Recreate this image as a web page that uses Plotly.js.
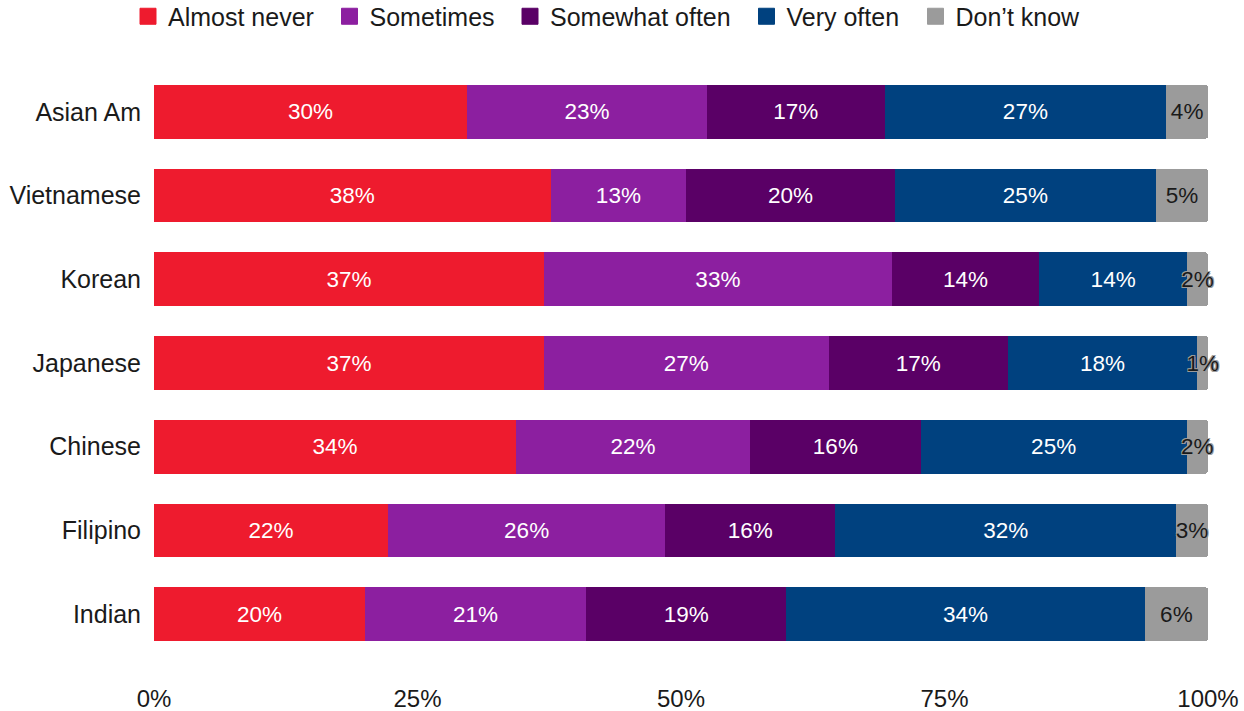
<!DOCTYPE html>
<html>
<head>
<meta charset="utf-8">
<script src="https://cdn.plot.ly/plotly-3.0.1.min.js"></script>
<style>html,body{margin:0;padding:0;background:#fff;}#chart{width:1244px;height:711px;}</style>
</head>
<body>
<div id="chart"></div>
<script>
const groups = ["Asian Am", "Vietnamese", "Korean", "Japanese", "Chinese", "Filipino", "Indian"];
const seriesNames = ["Almost never", "Sometimes", "Somewhat often", "Very often", "Don\u2019t know"];
const almostNever = [30, 38, 37, 37, 34, 22, 20];
const sometimes = [23, 13, 33, 27, 22, 26, 21];
const somewhatOften = [17, 20, 14, 17, 16, 16, 19];
const veryOften = [27, 25, 14, 18, 25, 32, 34];
const dontKnow = [4, 5, 2, 1, 2, 3, 6];
const xTickVals = [0, 25, 50, 75, 100];
const xTickText = ["0%", "25%", "50%", "75%", "100%"];

const seriesValues = [almostNever, sometimes, somewhatOften, veryOften, dontKnow];
const colors = ["#EE1B2E", "#8C1FA0", "#5A0066", "#00417F", "#9B9B9B"];
const textColors = ["#ffffff", "#ffffff", "#ffffff", "#ffffff", "#1a1a1a"];
const FONT = "Liberation Sans, Arial, sans-serif";
// legend swatch centre positions (px) in the page
const legendCenters = [148, 349.5, 530, 766.5, 935.5];

const traces = seriesValues.map((vals, i) => ({
  type: "bar",
  orientation: "h",
  name: seriesNames[i],
  y: groups,
  x: vals,
  text: vals.map(v => v + "%"),
  texttemplate: "%{text}",
  textposition: "inside",
  insidetextanchor: "middle",
  textangle: 0,
  constraintext: "none",
  cliponaxis: false,
  textfont: i === 4 ? {family: FONT, size: 22.5, color: textColors[i],
    shadow: "-1px -1px 0 #9B9B9B, 1px -1px 0 #9B9B9B, -1px 1px 0 #9B9B9B, 1px 1px 0 #9B9B9B"}
    : {family: FONT, size: 22.5, color: textColors[i]},
  marker: {color: colors[i], line: {width: 0}},
  showlegend: false,
  hoverinfo: "skip"
}));

seriesNames.forEach((n, i) => {
  traces.push({
    type: "scatter",
    mode: "markers",
    name: n,
    x: [null],
    y: [null],
    marker: {symbol: "square", size: 16, color: colors[i], line: {width: 1, color: colors[i]}},
    showlegend: true,
    legend: i === 0 ? "legend" : "legend" + (i + 1),
    hoverinfo: "skip"
  });
});

const layout = {
  width: 1244,
  height: 711,
  barmode: "stack",
  barnorm: "percent",
  bargap: 0.357,
  barcornerradius: 3,
  paper_bgcolor: "#ffffff",
  plot_bgcolor: "#ffffff",
  font: {family: FONT, size: 24, color: "#1a1a1a"},
  margin: {l: 154, r: 36, t: 70, b: 55},
  showlegend: true,
  xaxis: {
    range: [0, 100],
    tickvals: xTickVals,
    ticktext: xTickText,
    showgrid: false,
    zeroline: false,
    showline: false,
    ticks: "",
    ticklabelstandoff: 26,
    tickfont: {size: 24, color: "#1a1a1a"},
    fixedrange: true
  },
  yaxis: {
    autorange: "reversed",
    showgrid: false,
    zeroline: false,
    showline: false,
    ticks: "",
    ticklabelstandoff: 12,
    tickfont: {size: 25, color: "#1a1a1a"},
    fixedrange: true
  }
};

legendCenters.forEach((c, i) => {
  const key = i === 0 ? "legend" : "legend" + (i + 1);
  layout[key] = {
    orientation: "h",
    xref: "container", yref: "container",
    x: (c - 20) / 1244, xanchor: "left",
    y: 1 - 16.5 / 711, yanchor: "middle",
    font: {size: 25, color: "#1a1a1a"},
    itemwidth: 30,
    itemsizing: "trace",
    bgcolor: "rgba(0,0,0,0)",
    borderwidth: 0
  };
});

Plotly.newPlot("chart", traces, layout, {displayModeBar: false, staticPlot: true});
</script>
</body>
</html>
